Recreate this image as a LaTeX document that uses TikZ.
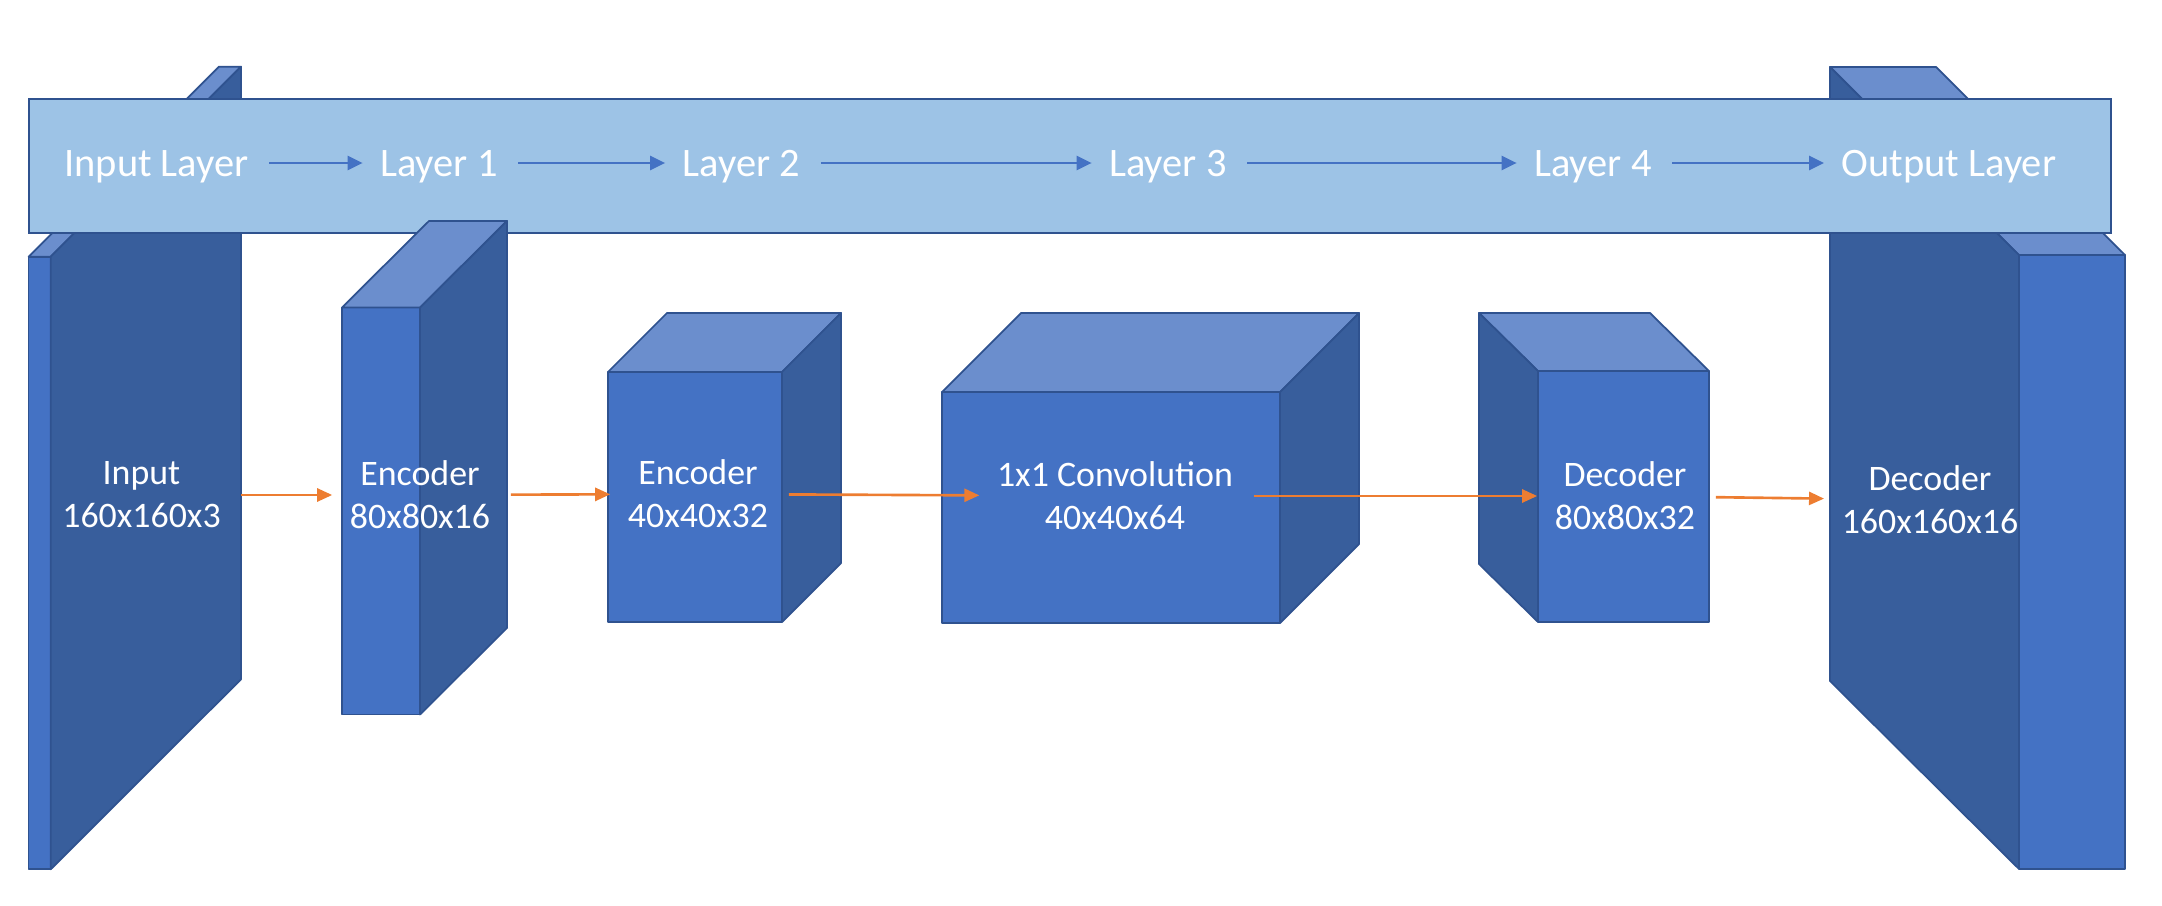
\documentclass[tikz,border=0pt]{standalone}
\usepackage{fontspec}
\setmainfont{Carlito}
\usetikzlibrary{arrows.meta}

\definecolor{cubefront}{HTML}{4472C4}
\definecolor{cubetop}{HTML}{6B8ECD}
\definecolor{cubeside}{HTML}{385E9C}
\definecolor{cubeline}{HTML}{2F528F}
\definecolor{barfill}{HTML}{9DC3E6}
\definecolor{arroworange}{HTML}{ED7D31}
\definecolor{arrowblue}{HTML}{4472C4}

\begin{document}
\begin{tikzpicture}[x=0.01cm, y=-0.01cm,
  frontface/.style={fill=cubefront, draw=cubeline, line width=0.5pt, line join=round},
  topface/.style={fill=cubetop, draw=cubeline, line width=0.5pt, line join=round},
  sideface/.style={fill=cubeside, draw=cubeline, line width=0.5pt, line join=round},
  bar/.style={fill=barfill, draw=cubeline, line width=0.6pt},
  layername/.style={text=white, inner sep=0pt, font=\fontsize{11.5pt}{14pt}\selectfont, text height=0.26cm, text depth=0pt},
  blockname/.style={text=white, inner sep=0pt, align=center, font=\fontsize{10.2pt}{12.2pt}\selectfont},
  flow/.style={-{Triangle[length=1.5mm, width=1.3mm]}, draw=arroworange, line width=0.75pt, shorten <=2mm, shorten >=1.7mm},
  layerflow/.style={-{Triangle[length=1.5mm, width=1.4mm]}, draw=arrowblue, line width=0.7pt, shorten <=2mm, shorten >=1.7mm},
]
\useasboundingbox (0,0) rectangle (2162,906);

% === Input and output slabs (behind the bar) ===
\filldraw[frontface] (28.6,256.7) rectangle (50.7,869.3);
\filldraw[topface] (28.6,256.7) -- (50.7,256.7) -- (241,66.7) -- (218.9,66.7) -- cycle;
\filldraw[sideface] (50.7,256.7) -- (241,66.7) -- (241,679.3) -- (50.7,869.3) -- cycle;

\filldraw[frontface] (2019,255) rectangle (2125,869);
\filldraw[topface] (2019,255) -- (2125,255) -- (1936,67) -- (1830,67) -- cycle;
\filldraw[sideface] (2019,255) -- (1830,67) -- (1830,681) -- (2019,869) -- cycle;

% === Layer bar ===
\filldraw[bar] (28.6,99) rectangle (2111,233);

\node[layername] (inl) at (156.5,163) {Input Layer};
\node[layername] (l1) at (439,163) {Layer 1};
\node[layername] (l2) at (741.5,163) {Layer 2};
\node[layername] (l3) at (1168,163) {Layer 3};
\node[layername] (l4) at (1593,163) {Layer 4};
\node[layername] (outl) at (1949,163) {Output Layer};

\draw[layerflow] (inl) -- (l1);
\draw[layerflow] (l1) -- (l2);
\draw[layerflow] (l2) -- (l3);
\draw[layerflow] (l3) -- (l4);
\draw[layerflow] (l4) -- (outl);

% === Encoder / bottleneck / decoder cubes ===
\filldraw[frontface] (342,307.5) rectangle (420,714.5);
\filldraw[topface] (342,307.5) -- (420,307.5) -- (507,221) -- (429,221) -- cycle;
\filldraw[sideface] (420,307.5) -- (507,221) -- (507,628) -- (420,714.5) -- cycle;

\filldraw[frontface] (608,372) rectangle (782,622);
\filldraw[topface] (608,372) -- (782,372) -- (841,313) -- (667,313) -- cycle;
\filldraw[sideface] (782,372) -- (841,313) -- (841,563) -- (782,622) -- cycle;

\filldraw[frontface] (942,392) rectangle (1280,623);
\filldraw[topface] (942,392) -- (1280,392) -- (1359,313) -- (1021,313) -- cycle;
\filldraw[sideface] (1280,392) -- (1359,313) -- (1359,544) -- (1280,623) -- cycle;

\filldraw[frontface] (1538,371) rectangle (1709,622);
\filldraw[topface] (1538,371) -- (1709,371) -- (1650,313) -- (1479,313) -- cycle;
\filldraw[sideface] (1538,371) -- (1479,313) -- (1479,564) -- (1538,622) -- cycle;

% === Block labels ===
\node[blockname] (inp) at (141.5,495) {Input\\160x160x3};
\node[blockname] (enca) at (420,495) {Encoder\\80x80x16};
\node[blockname] (encb) at (698,494) {Encoder\\40x40x32};
\node[blockname] (conv) at (1115,496) {1x1 Convolution\\40x40x64};
\node[blockname] (deca) at (1625,496) {Decoder\\80x80x32};
\node[blockname] (decb) at (1930,500) {Decoder\\160x160x16};

\draw[flow] (inp) -- (enca);
\draw[flow] (enca) -- (encb);
\draw[flow] (encb) -- (conv);
\draw[flow] (conv) -- (deca);
\draw[flow] (deca) -- (decb);

\end{tikzpicture}
\end{document}
